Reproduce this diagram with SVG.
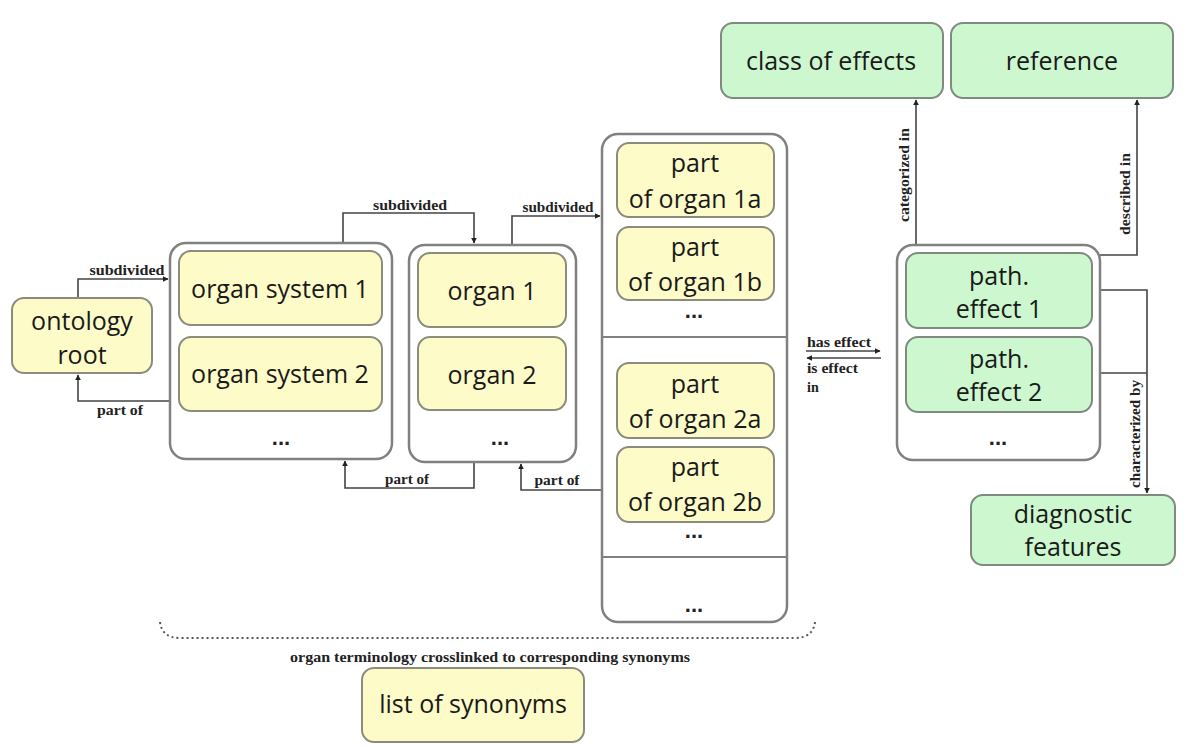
<svg xmlns="http://www.w3.org/2000/svg" width="1200" height="750" viewBox="0 0 1200 750">
<style>
.y{fill:#fdfbc8;stroke:#8c8c7c;stroke-width:2}
.g{fill:#cdf8cf;stroke:#7f8a80;stroke-width:2}
.c{fill:#fff;stroke:#808080;stroke-width:2.5}
.t{font-family:"Open Sans","Noto Sans",sans-serif;font-size:25px;fill:#1a1a1a;text-anchor:middle}
.d{font-family:"Liberation Sans",sans-serif;font-size:22px;font-weight:bold;fill:#222;text-anchor:middle}
.l{font-family:"Liberation Serif",serif;font-size:14px;font-weight:bold;fill:#222}
.m{text-anchor:middle}
.e{fill:none;stroke:#444;stroke-width:1.6}
</style>
<defs>
<marker id="a" viewBox="0 0 10 10" refX="9" refY="5" markerWidth="6" markerHeight="6" orient="auto-start-reverse" markerUnits="userSpaceOnUse"><path d="M0,0 L10,5 L0,10 z" fill="#222"/></marker>
</defs>
<rect width="1200" height="750" fill="#fff"/>

<g id="connectors">
<path class="e" d="M78,298 V279 H168" marker-end="url(#a)"/>
<text class="l m" x="127" y="275" textLength="75" lengthAdjust="spacingAndGlyphs">subdivided</text>
<path class="e" d="M170,401 H78 V375" marker-end="url(#a)"/>
<text class="l m" x="120" y="415" textLength="46" lengthAdjust="spacingAndGlyphs">part of</text>
<path class="e" d="M343,243 V213 H474 V243" marker-end="url(#a)"/>
<text class="l m" x="410" y="210" textLength="74" lengthAdjust="spacingAndGlyphs">subdivided</text>
<path class="e" d="M474,462 V488 H345 V461" marker-end="url(#a)"/>
<text class="l m" x="407" y="484" textLength="44" lengthAdjust="spacingAndGlyphs">part of</text>
<path class="e" d="M512,245 V216 H600" marker-end="url(#a)"/>
<text class="l m" x="558" y="212" textLength="71" lengthAdjust="spacingAndGlyphs">subdivided</text>
<path class="e" d="M602,490 H521 V464" marker-end="url(#a)"/>
<text class="l m" x="557" y="485" textLength="45" lengthAdjust="spacingAndGlyphs">part of</text>
<path class="e" d="M806,351 H880" marker-end="url(#a)"/>
<text class="l" x="807" y="347" textLength="64" lengthAdjust="spacingAndGlyphs">has effect</text>
<path class="e" d="M881,358 H807" marker-end="url(#a)"/>
<text class="l" x="807" y="373" textLength="51" lengthAdjust="spacingAndGlyphs">is effect</text>
<text class="l" x="807" y="392">in</text>
<path class="e" d="M916,245 V100" marker-end="url(#a)"/>
<text class="l m" transform="translate(909,175) rotate(-90)" textLength="94" lengthAdjust="spacingAndGlyphs">categorized in</text>
<path class="e" d="M1100,255 H1137 V100" marker-end="url(#a)"/>
<text class="l m" transform="translate(1130,194) rotate(-90)" textLength="82" lengthAdjust="spacingAndGlyphs">described in</text>
<path class="e" d="M1100,290 H1147 V493" marker-end="url(#a)"/>
<path class="e" d="M1100,373 H1147"/>
<text class="l m" transform="translate(1140,434) rotate(-90)" textLength="108" lengthAdjust="spacingAndGlyphs">characterized by</text>
<path d="M160,622 Q162,638 180,638 H795 Q813,638 815,622" fill="none" stroke="#555" stroke-width="2" stroke-dasharray="2,3"/>
<text class="l m" x="490" y="662" textLength="400" lengthAdjust="spacingAndGlyphs">organ terminology  crosslinked to corresponding synonyms</text>
</g>

<g id="ontology-root">
<rect class="y" x="12" y="298" width="140" height="75" rx="12"/>
<text class="t" x="82" y="330">ontology</text>
<text class="t" x="82" y="364">root</text>
</g>

<g id="organ-systems">
<rect class="c" x="170" y="243" width="222" height="216" rx="16"/>
<g id="organ-system-1"><rect class="y" x="179" y="251" width="203" height="74" rx="12"/><text class="t" x="280" y="298">organ system 1</text></g>
<g id="organ-system-2"><rect class="y" x="179" y="337" width="203" height="74" rx="12"/><text class="t" x="280" y="383">organ system 2</text></g>
<text class="d" x="281" y="445">...</text>
</g>

<g id="organs">
<rect class="c" x="409" y="245" width="167" height="217" rx="16"/>
<g id="organ-1"><rect class="y" x="418" y="253" width="148" height="74" rx="12"/><text class="t" x="492" y="300">organ 1</text></g>
<g id="organ-2"><rect class="y" x="418" y="337" width="148" height="73" rx="12"/><text class="t" x="492" y="384">organ 2</text></g>
<text class="d" x="500" y="445">...</text>
</g>

<g id="organ-parts">
<rect class="c" x="602" y="134" width="185" height="488" rx="16"/>
<line x1="603" y1="337" x2="786" y2="337" stroke="#808080" stroke-width="2"/>
<line x1="603" y1="557" x2="786" y2="557" stroke="#808080" stroke-width="2"/>
<g id="part-1a"><rect class="y" x="617" y="143" width="157" height="74" rx="12"/><text class="t" x="695" y="172">part</text><text class="t" x="695" y="208">of organ 1a</text></g>
<g id="part-1b"><rect class="y" x="617" y="227" width="157" height="73" rx="12"/><text class="t" x="695" y="256">part</text><text class="t" x="695" y="291">of organ 1b</text></g>
<text class="d" x="694" y="318">...</text>
<g id="part-2a"><rect class="y" x="617" y="363" width="157" height="75" rx="12"/><text class="t" x="695" y="393">part</text><text class="t" x="695" y="428">of organ 2a</text></g>
<g id="part-2b"><rect class="y" x="617" y="447" width="157" height="75" rx="12"/><text class="t" x="695" y="476">part</text><text class="t" x="695" y="511">of organ 2b</text></g>
<text class="d" x="694" y="538">...</text>
<text class="d" x="694" y="612">...</text>
</g>

<g id="path-effects">
<rect class="c" x="897" y="245" width="203" height="215" rx="16"/>
<g id="path-effect-1"><rect class="g" x="906" y="253" width="186" height="75" rx="12"/><text class="t" x="999" y="285">path.</text><text class="t" x="999" y="318">effect 1</text></g>
<g id="path-effect-2"><rect class="g" x="906" y="337" width="186" height="75" rx="12"/><text class="t" x="999" y="368">path.</text><text class="t" x="999" y="401">effect 2</text></g>
<text class="d" x="998" y="445">...</text>
</g>

<g id="class-of-effects"><rect class="g" x="721" y="23" width="222" height="75" rx="12"/><text class="t" x="831" y="70">class of effects</text></g>
<g id="reference"><rect class="g" x="951" y="23" width="222" height="75" rx="12"/><text class="t" x="1062" y="70">reference</text></g>
<g id="diagnostic-features"><rect class="g" x="971" y="495" width="204" height="70" rx="12"/><text class="t" x="1073" y="523">diagnostic</text><text class="t" x="1073" y="556">features</text></g>
<g id="list-of-synonyms"><rect class="y" x="362" y="668" width="222" height="74" rx="12"/><text class="t" x="473" y="713">list of synonyms</text></g>
</svg>
